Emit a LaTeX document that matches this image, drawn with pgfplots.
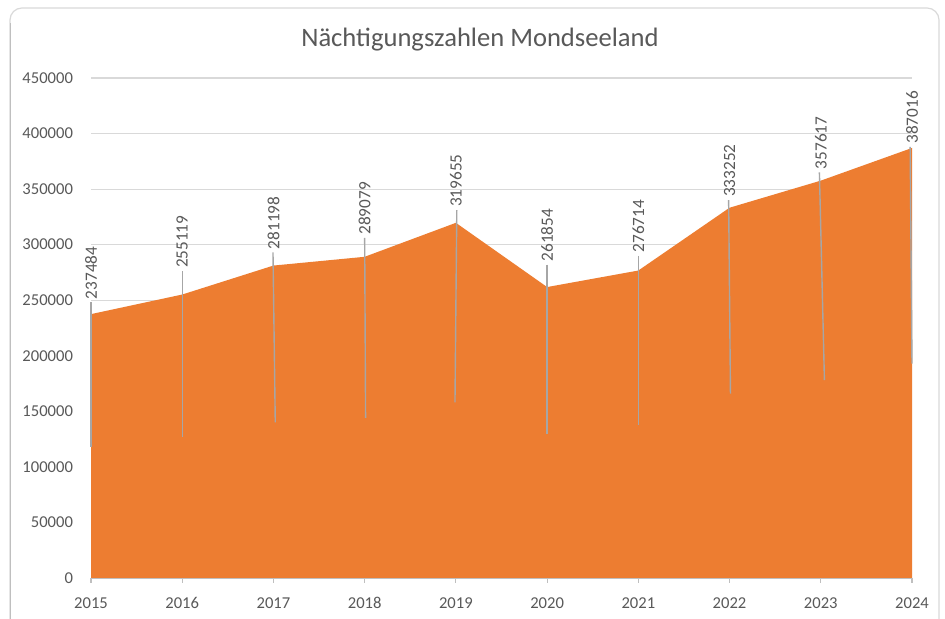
\documentclass[border=0pt]{standalone}
\usepackage{pgfplots}
\pgfplotsset{compat=1.18}
\usepackage{fontspec}
\setmainfont{Carlito}
\definecolor{orng}{HTML}{ED7D31}
\definecolor{txt}{HTML}{595959}
\definecolor{grd}{HTML}{D9D9D9}
\definecolor{axg}{HTML}{BFBFBF}
\definecolor{lead}{HTML}{A6A6A6}
\begin{document}
\begin{tikzpicture}[x=1pt,y=1pt]
\useasboundingbox (0,0) rectangle (472.5,309.5);
\fill[white] (0,0) rectangle (472.5,309.5);
\draw[grd, line width=0.6pt, rounded corners=6pt] (5,-6) rectangle (469.5,305.5);
\draw[axg, line width=0.8pt] (5.2,-6) -- (5.2,298);
\node[text=txt, font=\fontsize{13.3}{16}\selectfont] at (240,289.5) {Nächtigungszahlen Mondseeland};
\begin{axis}[
  at={(45.5pt,20.5pt)}, anchor=south west,
  scale only axis, width=410.5pt, height=250pt,
  xmin=0, xmax=9, ymin=0, ymax=450000,
  xtick={0,...,9},
  xticklabels={2015,2016,2017,2018,2019,2020,2021,2022,2023,2024},
  ytick={0,50000,...,450000},
  scaled y ticks=false,
  /pgf/number format/assume math mode=true,
  yticklabel style={/pgf/number format/fixed, /pgf/number format/1000 sep={}, xshift=-3pt},
  xticklabel style={anchor=north, text height=6pt, text depth=0pt, yshift=-3pt},
  ticklabel style={font=\fontsize{8.3}{10}\selectfont, text=txt},
  axis x line*=bottom, axis y line*=left,
  y axis line style={draw=none},
  x axis line style={draw=axg, line width=0.6pt},
  ytick style={draw=none},
  xtick style={draw=axg, line width=0.6pt},
  tick align=outside, major tick length=2.5pt,
  ymajorgrids, grid style={grd, line width=0.6pt},
  clip=false,
]
\addplot[fill=orng, draw=none] coordinates {
 (0,237484) (1,255119) (2,281198) (3,289079) (4,319655)
 (5,261854) (6,276714) (7,333252) (8,357617) (9,387016)
} \closedcycle;
\addplot[lead, line width=0.7pt] coordinates {(0,248000) (0,118000)};
\addplot[lead, line width=0.7pt] coordinates {(1,276000) (1,127000)};
\addplot[lead, line width=0.7pt] coordinates {(1.995,293000) (2.02,140000)};
\addplot[lead, line width=0.7pt] coordinates {(3,306000) (3.01,144000)};
\addplot[lead, line width=0.7pt] coordinates {(4.01,331000) (3.99,158000)};
\addplot[lead, line width=0.7pt] coordinates {(5,282000) (5,130000)};
\addplot[lead, line width=0.7pt] coordinates {(6,290000) (6,138000)};
\addplot[lead, line width=0.7pt] coordinates {(6.99,340000) (7.01,166000)};
\addplot[lead, line width=0.7pt] coordinates {(7.985,365000) (8.04,178000)};
\addplot[lead, line width=0.7pt] coordinates {(8.98,388000) (9.0,193000)};
\addplot[draw=none, mark=none, nodes near coords, point meta=explicit symbolic,
  nodes near coords style={rotate=90, anchor=west, inner sep=1.5pt,
    font=\fontsize{8.6}{10}\selectfont, text=txt}]
 coordinates {
 (0,248000)[237484] (1,276000)[255119] (2,293000)[281198] (3,306000)[289079]
 (4,331000)[319655] (5,282000)[261854] (6,290000)[276714] (7,340000)[333252]
 (8,365000)[357617] (9,388000)[387016]
};
\end{axis}
\end{tikzpicture}
\end{document}
